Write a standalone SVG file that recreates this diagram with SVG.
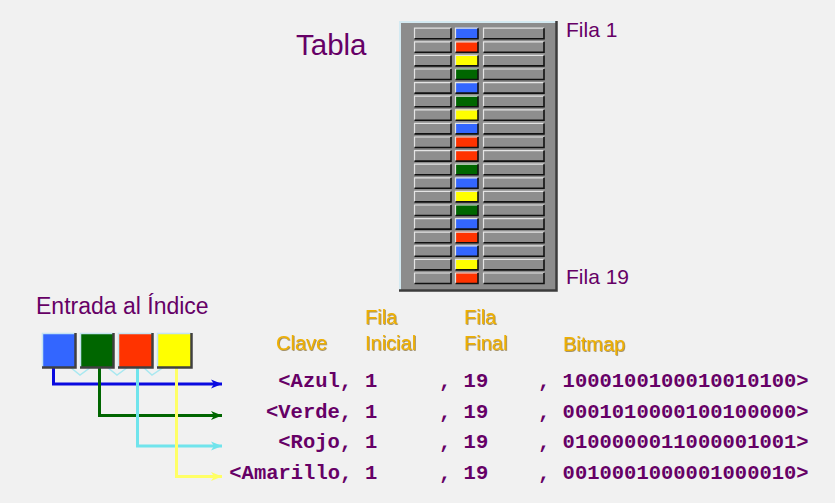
<svg xmlns="http://www.w3.org/2000/svg" xmlns:xlink="http://www.w3.org/1999/xlink" width="835" height="503" viewBox="0 0 835 503">
<style>
.ttl{font-family:"Liberation Sans",Arial,sans-serif;fill:#660066}
.hdr{font-family:"Liberation Sans",Arial,sans-serif;font-size:20px;fill:#f0b000;filter:url(#sh)}
.mono{font-family:"Liberation Mono","Courier New",monospace;font-size:20.5px;font-weight:bold;fill:#660066}
.cell{fill:#8e8e8e}
.hi{stroke:#e4e4e4;stroke-width:1.2;fill:none}
.lo{stroke:#111;stroke-width:1.6;fill:none}
.conn{fill:none;stroke-width:3}
</style>
<defs>
<filter id="sh" x="-10%" y="-10%" width="130%" height="140%">
<feDropShadow dx="0.8" dy="0.8" stdDeviation="0.4" flood-color="#6b4a00" flood-opacity="0.7"/>
</filter>
<g id="row">
<rect class="cell" x="414" y="0" width="37" height="11"/>
<path class="hi" d="M414.5,11 V0.5 H451"/>
<path class="lo" d="M451,0.5 V11 H414.5"/>
<rect x="455" y="0" width="23" height="11"/>
<path class="hi" d="M455.5,11 V0.5 H478"/>
<path class="lo" d="M478,0.5 V11 H455.5"/>
<rect class="cell" x="483" y="0" width="61" height="11"/>
<path class="hi" d="M483.5,11 V0.5 H544"/>
<path class="lo" d="M544,0.5 V11 H483.5"/>
</g>
<marker id="aB" markerUnits="userSpaceOnUse" markerWidth="12" markerHeight="10" refX="11" refY="5" orient="auto"><path d="M0,0.5 L11,5 L0,9.5 L3,5 z" fill="#0a0ae0"/></marker>
<marker id="aG" markerUnits="userSpaceOnUse" markerWidth="12" markerHeight="10" refX="11" refY="5" orient="auto"><path d="M0,0.5 L11,5 L0,9.5 L3,5 z" fill="#006600"/></marker>
<marker id="aC" markerUnits="userSpaceOnUse" markerWidth="12" markerHeight="10" refX="11" refY="5" orient="auto"><path d="M0,0.5 L11,5 L0,9.5 L3,5 z" fill="#70e4ec"/></marker>
<marker id="aY" markerUnits="userSpaceOnUse" markerWidth="12" markerHeight="10" refX="11" refY="5" orient="auto"><path d="M0,0.5 L11,5 L0,9.5 L3,5 z" fill="#ffff66"/></marker>
</defs>
<rect width="835" height="503" fill="#f1f1f1"/>

<text class="ttl" x="296" y="55" font-size="29.5">Tabla</text>

<g id="tabla">
<rect x="399" y="21" width="158" height="270" fill="#8c8c8c"/>
<path d="M400,291 V22 H556" fill="none" stroke="#d4eaf2" stroke-width="2"/>
<path d="M556.5,21 V290.5 H399" fill="none" stroke="#3c3c3c" stroke-width="2.5"/>
<use xlink:href="#row" y="27.7" fill="#3366ff"/>
<use xlink:href="#row" y="41.3" fill="#ff3300"/>
<use xlink:href="#row" y="54.9" fill="#ffff00"/>
<use xlink:href="#row" y="68.5" fill="#006600"/>
<use xlink:href="#row" y="82.1" fill="#3366ff"/>
<use xlink:href="#row" y="95.7" fill="#006600"/>
<use xlink:href="#row" y="109.3" fill="#ffff00"/>
<use xlink:href="#row" y="122.9" fill="#3366ff"/>
<use xlink:href="#row" y="136.5" fill="#ff3300"/>
<use xlink:href="#row" y="150.1" fill="#ff3300"/>
<use xlink:href="#row" y="163.7" fill="#006600"/>
<use xlink:href="#row" y="177.3" fill="#3366ff"/>
<use xlink:href="#row" y="190.9" fill="#ffff00"/>
<use xlink:href="#row" y="204.5" fill="#006600"/>
<use xlink:href="#row" y="218.1" fill="#3366ff"/>
<use xlink:href="#row" y="231.7" fill="#ff3300"/>
<use xlink:href="#row" y="245.3" fill="#3366ff"/>
<use xlink:href="#row" y="258.9" fill="#ffff00"/>
<use xlink:href="#row" y="272.5" fill="#ff3300"/>
</g>

<text class="ttl" x="566" y="37" font-size="21">Fila 1</text>
<text class="ttl" x="566" y="284" font-size="21">Fila 19</text>
<text class="ttl" x="36" y="314" font-size="23">Entrada al Índice</text>

<g id="connectors">
<path d="M70,367 L80,375 L91,367 M107,367 L117,375 L128,367 M143,367 L152,375 L164,367" fill="none" stroke="#a8e8f0" stroke-width="1.5"/>
<path class="conn" d="M53.5,367 V384 H222" stroke="#0a0ae0" marker-end="url(#aB)"/>
<path class="conn" d="M99.5,367 V415.5 H222" stroke="#006600" marker-end="url(#aG)"/>
<path class="conn" d="M137.5,367 V446 H222" stroke="#70e4ec" marker-end="url(#aC)"/>
<path class="conn" d="M176.5,367 V476.5 H222" stroke="#ffff66" marker-end="url(#aY)"/>
</g>

<g id="idx-azul">
<rect x="42" y="333" width="33" height="34" fill="#3366ff"/>
<path d="M42.5,367 V333.5 H75" fill="none" stroke="#c4e4f2" stroke-width="1.5"/>
<path d="M75.5,333 V367.5 H42" fill="none" stroke="#404040" stroke-width="2.5"/>
</g>
<g id="idx-verde">
<rect x="80" y="333" width="33" height="34" fill="#006600"/>
<path d="M80.5,367 V333.5 H113" fill="none" stroke="#c4e4f2" stroke-width="1.5"/>
<path d="M113.5,333 V367.5 H80" fill="none" stroke="#404040" stroke-width="2.5"/>
</g>
<g id="idx-rojo">
<rect x="118" y="333" width="34" height="34" fill="#ff3300"/>
<path d="M118.5,367 V333.5 H152" fill="none" stroke="#c4e4f2" stroke-width="1.5"/>
<path d="M152.5,333 V367.5 H118" fill="none" stroke="#404040" stroke-width="2.5"/>
</g>
<g id="idx-amarillo">
<rect x="157" y="333" width="34" height="34" fill="#ffff00"/>
<path d="M157.5,367 V333.5 H191" fill="none" stroke="#c4e4f2" stroke-width="1.5"/>
<path d="M191.5,333 V367.5 H157" fill="none" stroke="#404040" stroke-width="2.5"/>
</g>

<g id="headers">
<text class="hdr" x="276" y="350">Clave</text>
<text class="hdr" x="365" y="324">Fila</text>
<text class="hdr" x="365" y="350">Inicial</text>
<text class="hdr" x="464" y="324">Fila</text>
<text class="hdr" x="464" y="350">Final</text>
<text class="hdr" x="563" y="351">Bitmap</text>
</g>

<g id="rows" class="mono">
<text x="278.3" y="387">&lt;Azul,</text>
<text x="266" y="417.5">&lt;Verde,</text>
<text x="278.3" y="448">&lt;Rojo,</text>
<text x="229.3" y="478.5">&lt;Amarillo,</text>
<text x="365" y="387">1</text>
<text x="365" y="417.5">1</text>
<text x="365" y="448">1</text>
<text x="365" y="478.5">1</text>
<text x="439" y="387">, 19</text>
<text x="439" y="417.5">, 19</text>
<text x="439" y="448">, 19</text>
<text x="439" y="478.5">, 19</text>
<text x="538" y="387">, 1000100100010010100&gt;</text>
<text x="538" y="417.5">, 0001010000100100000&gt;</text>
<text x="538" y="448">, 0100000011000001001&gt;</text>
<text x="538" y="478.5">, 0010001000001000010&gt;</text>
</g>
</svg>
